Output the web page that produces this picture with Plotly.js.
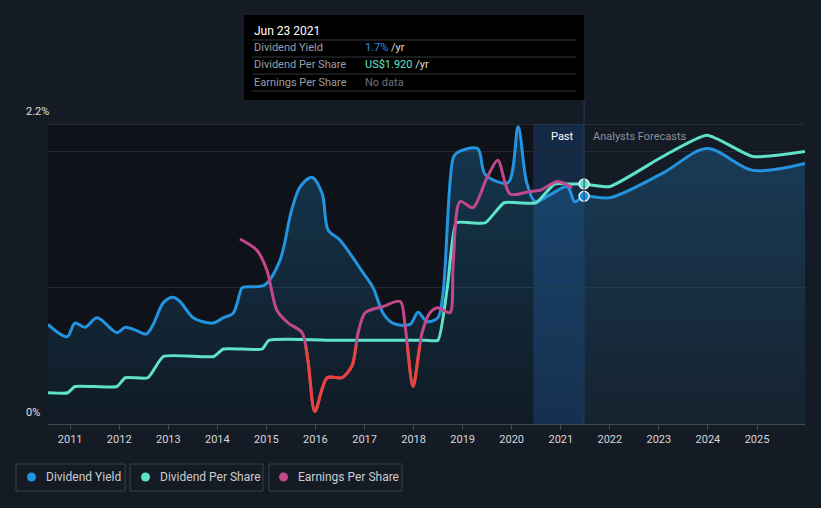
<!DOCTYPE html>
<html><head><meta charset="utf-8">
<script src="https://cdn.plot.ly/plotly-3.0.1.min.js"></script>
<style>html,body{margin:0;padding:0;background:#151b24;}#chart{width:821px;height:508px;}</style>
</head><body><div id="chart"></div>
<script>
// ---- data ----
const yieldDates = ['2010-07-20','2010-12-10','2011-02-05','2011-04-22','2011-07-20','2011-12-15','2012-02-15','2012-04-27','2012-07-20','2012-09-10','2012-11-25','2013-02-05','2013-03-28','2013-07-05','2013-11-28','2014-02-15','2014-04-27','2014-06-18','2014-07-05','2014-12-20','2015-04-12','2015-07-08','2015-09-10','2015-12-05','2016-02-20','2016-04-05','2016-07-01','2016-12-20','2017-03-05','2017-05-20','2017-07-30','2017-12-05','2018-02-03','2018-04-12','2018-07-01','2018-08-08','2018-10-22','2018-11-20','2019-04-22','2019-06-18','2019-12-05','2020-02-18','2020-04-22','2020-06-25','2020-10-12','2021-02-18','2021-04-15','2021-06-23','2022-01-01','2023-01-30','2023-12-25','2024-12-01','2025-12-24'];
const yieldValues = [0.73,0.64,0.74,0.71,0.78,0.67,0.71,0.69,0.66,0.73,0.89,0.93,0.90,0.78,0.74,0.78,0.81,0.96,1.00,1.02,1.20,1.57,1.74,1.81,1.69,1.42,1.35,1.11,1.00,0.81,0.74,0.73,0.82,0.75,0.78,0.96,1.95,1.99,2.02,1.83,1.77,2.18,1.77,1.63,1.68,1.74,1.63,1.67,1.66,1.84,2.02,1.86,1.91];

const dpsDates = ['2010-07-20','2010-12-15','2011-02-05','2011-12-15','2012-02-15','2012-08-01','2012-11-25','2013-12-05','2014-02-15','2014-12-01','2015-01-20','2016-06-01','2017-06-01','2018-04-01','2018-07-01','2018-09-10','2018-11-15','2019-03-01','2019-06-20','2019-11-05','2020-02-15','2020-07-01','2020-11-15','2021-02-20','2021-06-23','2022-01-01','2023-01-30','2023-12-25','2024-12-01','2025-12-24'];
const dpsValues = [0.25,0.25,0.30,0.30,0.37,0.37,0.54,0.54,0.60,0.60,0.67,0.67,0.67,0.67,0.67,1.10,1.61,1.61,1.61,1.77,1.77,1.77,1.92,1.92,1.92,1.90,2.14,2.31,2.14,2.18];

const epsDates = ['2014-06-18','2014-10-22','2015-01-05','2015-03-20','2015-06-10','2015-09-24','2015-11-06','2015-12-28','2016-03-28','2016-07-17','2016-10-01','2016-11-14','2017-01-05','2017-05-18','2017-09-24','2017-10-30','2017-12-28','2018-03-05','2018-05-03','2018-07-01','2018-09-28','2018-10-22','2018-12-13','2019-03-18','2019-07-01','2019-09-20','2019-12-20','2020-05-15','2020-07-30','2020-12-10','2021-03-25'];
const epsValues = [1.48,1.39,1.23,0.91,0.81,0.73,0.51,0.10,0.37,0.37,0.47,0.73,0.89,0.94,0.98,0.78,0.30,0.73,0.89,0.93,0.89,1.27,1.78,1.73,1.97,2.11,1.84,1.86,1.87,1.94,1.89];
const epsRedBelow = 0.62;

const yearTicks = ['2011','2012','2013','2014','2015','2016','2017','2018','2019','2020','2021','2022','2023','2024','2025'];
const markerDate = '2021-06-23';
const markerYield = 1.67;
const markerDps = 1.92;
const pastStart = '2020-06-10';

// ---- layout helpers ----
const W = 821, H = 508, L = 48, R = 16, T = 124, B = 84;
const pw = W - L - R, ph = H - T - B;
const px = x => (x - L) / pw;
const py = y => (H - B - y) / ph;
const FONT = 'Roboto, "Open Sans", sans-serif';
const C_Y = '#2394df', C_D = '#5fe3c8', C_E = '#c2488b', C_R = '#e8443a';
const DPS_MAX = 2.4;

const traces = [
  {x: yieldDates, y: yieldValues, type: 'scatter', mode: 'lines', line: {color: C_Y, width: 3, shape: 'spline', smoothing: 0.9},
   fill: 'tozeroy', fillgradient: {type: 'vertical', colorscale: [[0, 'rgba(35,148,223,0.06)'], [1, 'rgba(35,148,223,0.28)']]}, hoverinfo: 'skip'},
  {x: dpsDates, y: dpsValues, yaxis: 'y2', type: 'scatter', mode: 'lines', line: {color: C_D, width: 3, shape: 'spline', smoothing: 0.5}, hoverinfo: 'skip'},
  {x: epsDates, y: epsValues, yaxis: 'y2', type: 'scatter', mode: 'lines', line: {color: C_E, width: 3, shape: 'spline', smoothing: 0.8}, hoverinfo: 'skip'},
  {x: epsDates, y: epsValues, yaxis: 'y3', type: 'scatter', mode: 'lines', line: {color: C_R, width: 3, shape: 'spline', smoothing: 0.8}, hoverinfo: 'skip'},
  {x: [markerDate], y: [markerYield], type: 'scatter', mode: 'markers', marker: {color: C_Y, size: 10, line: {color: '#e8eef5', width: 1.5}}, hoverinfo: 'skip'},
  {x: [markerDate], y: [markerDps], yaxis: 'y2', type: 'scatter', mode: 'markers', marker: {color: C_D, size: 10, line: {color: '#e8eef5', width: 1.5}}, hoverinfo: 'skip'}
];

const shapes = [
  {type: 'rect', xref: 'x', yref: 'y', x0: yieldDates[0], x1: pastStart, y0: 0, y1: 2.2, fillcolor: '#0f1319', line: {width: 0}, layer: 'below'},
  {type: 'rect', xref: 'x', yref: 'y', x0: pastStart, x1: markerDate, y0: 0, y1: 2.2, fillcolor: 'rgba(25,95,185,0.22)', line: {width: 0}, layer: 'below'},
  {type: 'line', xref: 'paper', yref: 'y', x0: 0, x1: 1, y0: 2.2, y1: 2.2, line: {color: '#3b414b', width: 1}},
  {type: 'line', xref: 'x', yref: 'paper', x0: markerDate, x1: markerDate, y0: 0, y1: py(100), line: {color: '#1d3c66', width: 1}},
  // tooltip
  {type: 'rect', xref: 'paper', yref: 'paper', x0: px(244), x1: px(584), y0: py(100), y1: py(15), fillcolor: '#000000', line: {width: 0}},
];
[40, 57, 74, 91].forEach(y => shapes.push({type: 'line', xref: 'paper', yref: 'paper', x0: px(252), x1: px(576), y0: py(y), y1: py(y), line: {color: '#34373d', width: 1}}));
// legend boxes
const legendBoxes = [[16, 125], [130, 263], [269, 402]];
const legendDots = [31.5, 145.5, 283.5];
const legendNames = ['Dividend Yield', 'Dividend Per Share', 'Earnings Per Share'];
const legendTextX = [44, 158, 296];
const legendColors = [C_Y, C_D, C_E];
legendBoxes.forEach(b => shapes.push({type: 'rect', xref: 'paper', yref: 'paper', x0: px(b[0]), x1: px(b[1]), y0: py(491), y1: py(464), line: {color: '#3a404b', width: 1}, fillcolor: 'rgba(0,0,0,0)'}));
legendDots.forEach((d, i) => shapes.push({type: 'circle', xref: 'paper', yref: 'paper', x0: px(d - 4.5), x1: px(d + 4.5), y0: py(481.5), y1: py(472.5), fillcolor: legendColors[i], line: {width: 0}}));

const ann = (x, y, text, opts) => Object.assign({xref: 'paper', yref: 'paper', x: px(x), y: py(y), text: text, showarrow: false, xanchor: 'left', yanchor: 'middle', font: {family: FONT, size: 11, color: '#9a9ea6'}}, opts || {});
const annotations = [
  ann(252, 31, 'Jun 23 2021', {font: {family: FONT, size: 12, color: '#ffffff'}}),
  ann(252, 48, 'Dividend Yield'),
  ann(252, 65, 'Dividend Per Share'),
  ann(252, 82, 'Earnings Per Share'),
  ann(363, 48, '<span style="color:' + C_Y + '">1.7%</span> /yr', {font: {family: FONT, size: 11, color: '#dddddd'}}),
  ann(363, 65, '<span style="color:' + C_D + '">US$1.920</span> /yr', {font: {family: FONT, size: 11, color: '#dddddd'}}),
  ann(363, 82, 'No data', {font: {family: FONT, size: 11, color: '#6f737a'}}),
  ann(24, 112, '2.2%', {font: {family: FONT, size: 11, color: '#e0e0e0'}}),
  ann(24, 412, '0%', {font: {family: FONT, size: 11, color: '#e0e0e0'}}),
  ann(576, 136, 'Past', {xanchor: 'right', font: {family: FONT, size: 11, color: '#ffffff'}}),
  ann(591, 136, 'Analysts Forecasts', {font: {family: FONT, size: 11, color: '#8b9098'}})
];
legendNames.forEach((n, i) => annotations.push(ann(legendTextX[i], 477.5, n, {font: {family: FONT, size: 12, color: '#c9ccd1'}})));

const layout = {
  width: W, height: H,
  margin: {l: L, r: R, t: T, b: B},
  paper_bgcolor: '#151b24', plot_bgcolor: 'rgba(0,0,0,0)',
  showlegend: false,
  font: {family: FONT},
  xaxis: {type: 'date', range: [yieldDates[0], yieldDates[yieldDates.length - 1]], tickvals: yearTicks.map(y => y + '-01-01'), ticktext: yearTicks,
          ticks: 'outside', ticklen: 5, tickcolor: '#444a54', showline: true, linecolor: '#444a54', linewidth: 1, showgrid: false, zeroline: false,
          tickfont: {family: FONT, size: 11, color: '#d6d8dc'}, fixedrange: true},
  yaxis: {range: [0, 2.2], tickvals: [1, 2], showticklabels: false, gridcolor: '#232933', gridwidth: 1, zeroline: false, showline: false, fixedrange: true},
  yaxis2: {range: [0, DPS_MAX], overlaying: 'y', visible: false, showgrid: false, zeroline: false},
  yaxis3: {domain: [0, epsRedBelow / DPS_MAX], range: [0, epsRedBelow], visible: false, showgrid: false, zeroline: false, anchor: 'x'},
  shapes: shapes,
  annotations: annotations
};
Plotly.newPlot('chart', traces, layout, {staticPlot: true, displayModeBar: false});
</script></body></html>
